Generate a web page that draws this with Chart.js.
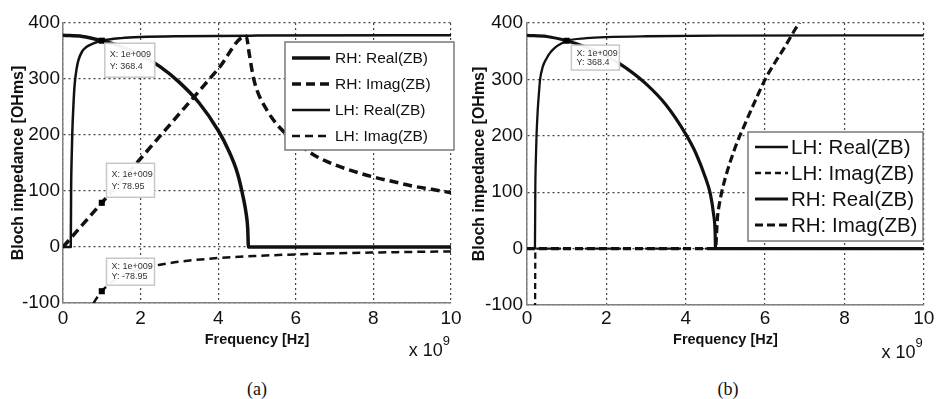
<!DOCTYPE html>
<html><head><meta charset="utf-8">
<script src="https://cdn.jsdelivr.net/npm/chart.js@4.4.0/dist/chart.umd.min.js"></script>
<style>
html,body{margin:0;padding:0;background:#fff;width:937px;height:399px;overflow:hidden;}
#ca{position:absolute;left:0;top:0;}
#cb{position:absolute;left:468px;top:0;}
.cap{position:absolute;top:380px;width:40px;text-align:center;font-family:'Liberation Serif','DejaVu Serif',serif;font-size:18px;line-height:19px;color:#111;}
</style></head><body>
<canvas id="ca" width="468" height="370"></canvas>
<canvas id="cb" width="469" height="370"></canvas>
<div class="cap" style="left:237px">(a)</div>
<div class="cap" style="left:708px">(b)</div>
<script>
// ---- tick labels ----
const xTicks = [0, 2, 4, 6, 8, 10];
const yTicks = [-100, 0, 100, 200, 300, 400];
const xTitle = 'Frequency [Hz]';
const yTitle = 'Bloch impedance [OHms]';
const xExponent = '9';
const captions = ['(a)', '(b)'];

// ---- panel (a) ----
const aLabels = ['RH: Real(ZB)', 'RH: Imag(ZB)', 'LH: Real(ZB)', 'LH: Imag(ZB)'];
const aRhRealX = [0, 0.5, 1, 1.5, 2, 2.5, 3, 3.5, 4, 4.25, 4.5, 4.65, 4.72, 4.76, 4.78, 6, 8, 10];
const aRhRealY = [378, 376, 368.4, 358, 343, 322, 294, 258, 208, 175, 131, 87, 60, 34, 0, 0, 0, 0];
const aRhImagX = [0, 1, 2, 3, 4, 4.72, 4.8, 4.9, 5.0, 5.25, 5.5, 5.75, 6, 6.5, 7, 7.5, 8, 8.5, 9, 9.5, 10];
const aRhImagY = [0, 78.95, 158, 238, 318, 377, 345, 305, 280, 245, 220, 202, 188, 163, 147, 135, 125, 117, 109, 103, 97];
const aLhRealX = [0, 0.2, 0.21, 0.22, 0.24, 0.27, 0.3, 0.35, 0.4, 0.5, 0.6, 0.8, 1, 1.5, 2, 3, 5, 10];
const aLhRealY = [0, 0, 110, 150, 205, 255, 290, 318, 334, 350, 357, 364, 368.4, 373, 375, 376.5, 377.5, 378];
const aLhImagX = [0.78, 0.85, 1, 1.25, 1.5, 2, 2.5, 3, 4, 5, 6, 7, 8, 9, 10];
const aLhImagY = [-101, -93, -78.95, -63, -52.6, -39.5, -31.6, -26.3, -19.7, -15.8, -13.2, -11.3, -9.9, -8.8, -7.9];
const aTipX = [1, 1, 1];
const aTipY = [368.4, 78.95, -78.95];

// ---- panel (b) ----
const bLabels = ['LH: Real(ZB)', 'LH: Imag(ZB)', 'RH: Real(ZB)', 'RH: Imag(ZB)'];
const bLhRealX = [0, 0.2, 0.21, 0.22, 0.24, 0.27, 0.3, 0.33, 0.4, 0.5, 0.58, 0.7, 0.85, 1, 1.5, 2, 3, 5, 10];
const bLhRealY = [0, 0, 110, 150, 200, 245, 275, 300, 323, 338, 347, 356, 363, 368.4, 373, 375, 376.5, 377.5, 378];
const bLhImagX = [0.19, 0.2, 0.205, 0.21, 10];
const bLhImagY = [-160, -121, -84, 0, 0];
const bRhRealX = [0, 0.5, 1, 1.5, 2, 2.5, 3, 3.5, 4, 4.25, 4.5, 4.62, 4.7, 4.74, 4.75, 10];
const bRhRealY = [378, 376, 368.4, 357, 342, 320, 292, 255, 203, 170, 125, 97, 62, 30, 0, 0];
const bRhImagX = [0, 4.75, 4.8, 4.85, 4.9, 5, 5.25, 5.5, 5.75, 6, 6.25, 6.5, 6.75, 7, 7.1];
const bRhImagY = [0, 0, 55, 80, 98, 126, 180, 222, 262, 300, 330, 358, 388, 416, 428];
const bTipX = [1];
const bTipY = [368.4];

const FONT = '"Liberation Sans", Arial, Helvetica, sans-serif';
function pts(xs, ys) { return xs.map((x, i) => ({x: x, y: ys[i]})); }
function tipText(x, y) {
  const v = x * 1e9;
  const e = Math.floor(Math.log10(v));
  const m = v / Math.pow(10, e);
  return ['X: ' + m + 'e+' + String(e).padStart(3, '0'), 'Y: ' + y];
}

const boxLegend = {
  id: 'boxLegend',
  afterDatasetsDraw(chart, args, o) {
    if (!o || !o.rows) return;
    const ctx = chart.ctx;
    ctx.save();
    ctx.fillStyle = '#fff';
    ctx.fillRect(o.x, o.y, o.w, o.h);
    ctx.strokeStyle = '#7a7a7a';
    ctx.lineWidth = 1.5;
    ctx.strokeRect(o.x, o.y, o.w, o.h);
    o.rows.forEach((ry, i) => {
      const ds = chart.data.datasets[i];
      ctx.beginPath();
      ctx.strokeStyle = ds.borderColor;
      ctx.lineWidth = ds.borderWidth;
      ctx.setLineDash(ds.legendDash || []);
      ctx.moveTo(o.lx1, ry);
      ctx.lineTo(o.lx2, ry);
      ctx.stroke();
      ctx.setLineDash([]);
      ctx.fillStyle = '#111';
      ctx.font = o.fontSize + 'px ' + FONT;
      ctx.textBaseline = 'middle';
      ctx.textAlign = 'left';
      ctx.fillText(ds.label, o.tx, ry + 1);
    });
    ctx.restore();
  }
};

const dataTips = {
  id: 'dataTips',
  afterDatasetsDraw(chart, args, o) {
    if (!o || !o.boxes) return;
    const ctx = chart.ctx;
    const xs = chart.scales.x, ys = chart.scales.y;
    ctx.save();
    o.boxes.forEach((b, i) => {
      const mx = xs.getPixelForValue(o.tx[i]);
      const my = ys.getPixelForValue(o.ty[i]);
      const bx = mx + b.dx, by = my + b.dy;
      ctx.fillStyle = 'rgba(255,255,255,0.95)';
      ctx.fillRect(bx, by, b.w, b.h);
      ctx.strokeStyle = '#c8c8c8';
      ctx.lineWidth = 1.5;
      ctx.strokeRect(bx, by, b.w, b.h);
      const lines = tipText(o.tx[i], o.ty[i]);
      ctx.fillStyle = '#333';
      ctx.font = '9px ' + FONT;
      ctx.textBaseline = 'middle';
      ctx.textAlign = 'left';
      ctx.fillText(lines[0], bx + 5, by + b.h * 0.32);
      ctx.fillText(lines[1], bx + 5, by + b.h * 0.68);
    });
    ctx.restore();
  }
};

const expoLabel = {
  id: 'expoLabel',
  afterDraw(chart) {
    const ctx = chart.ctx;
    const a = chart.chartArea;
    ctx.save();
    ctx.fillStyle = '#111';
    ctx.textBaseline = 'alphabetic';
    ctx.textAlign = 'right';
    ctx.font = '13px ' + FONT;
    const w9 = ctx.measureText(xExponent).width;
    ctx.fillText(xExponent, a.right - 1, a.bottom + 42);
    ctx.font = '18px ' + FONT;
    ctx.fillText('x 10', a.right - 1 - w9, a.bottom + 53);
    ctx.restore();
  }
};

function makeChart(id, p) {
  return new Chart(document.getElementById(id), {
    type: 'scatter',
    data: { datasets: p.datasets },
    plugins: [boxLegend, dataTips, expoLabel],
    options: {
      responsive: false,
      animation: false,
      events: [],
      layout: { padding: { left: 0, right: p.padRight, top: 23, bottom: 0 } },
      plugins: {
        legend: { display: false },
        tooltip: { enabled: false },
        boxLegend: p.legend,
        dataTips: p.tips
      },
      elements: { point: { radius: 0 } },
      scales: {
        x: {
          type: 'linear', min: 0, max: 10,
          afterBuildTicks: s => { s.ticks = xTicks.map(v => ({value: v})); },
          afterFit: s => { s.height = p.xH; },
          ticks: { font: { family: FONT, size: 19 }, color: '#111', padding: p.xPad, maxRotation: 0 },
          grid: { color: '#444', lineWidth: 1.2, drawTicks: false },
          border: { color: '#808080', width: 1.5, dash: [2, 3] },
          title: { display: true, text: xTitle, color: '#111',
                   font: { family: FONT, size: 14.5, weight: 'bold' }, padding: { top: 0, bottom: p.xTitlePad } }
        },
        y: {
          type: 'linear', min: -100, max: 400,
          afterBuildTicks: s => { s.ticks = yTicks.map(v => ({value: v})); },
          afterFit: s => { s.width = p.yW; },
          ticks: { font: { family: FONT, size: 19 }, color: '#111', padding: p.yPad },
          grid: { color: '#444', lineWidth: 1.2, drawTicks: false },
          border: { color: '#808080', width: 1.5, dash: [2, 3] },
          title: { display: true, text: yTitle, color: '#111',
                   font: { family: FONT, size: 16, weight: 'bold' }, padding: { top: p.yTitlePad, bottom: 0 } }
        }
      }
    }
  });
}

function lineDs(label, xs, ys, w, dash) {
  return { label: label, data: pts(xs, ys), showLine: true, borderColor: '#111', backgroundColor: '#111',
           borderWidth: w, borderDash: dash || [], legendDash: dash || [], pointRadius: 0,
           cubicInterpolationMode: 'monotone', borderCapStyle: 'butt', borderJoinStyle: 'round' };
}
function tipDs(xs, ys) {
  return { label: 'tips', data: pts(xs, ys), showLine: false, pointStyle: 'rect', pointRadius: 4.3,
           backgroundColor: '#000', borderColor: '#000', borderWidth: 0, order: -1 };
}

makeChart('ca', {
  padRight: 17, xH: 67, xPad: 4.5, xTitlePad: 21.5, yW: 63, yPad: 3, yTitlePad: 8.5,
  datasets: [
    lineDs(aLabels[0], aRhRealX, aRhRealY, 3.5),
    lineDs(aLabels[1], aRhImagX, aRhImagY, 3.5, [9, 5]),
    lineDs(aLabels[2], aLhRealX, aLhRealY, 2.5),
    lineDs(aLabels[3], aLhImagX, aLhImagY, 2.5, [8, 5]),
    tipDs(aTipX, aTipY)
  ],
  legend: { x: 285, y: 42, w: 169, h: 108, rows: [58, 84, 110, 136], lx1: 292, lx2: 330, tx: 335, fontSize: 15.5 },
  tips: { tx: aTipX, ty: aTipY, boxes: [
    { dx: 3, dy: 2.5, w: 50, h: 34 },
    { dx: 4.7, dy: -39.5, w: 48, h: 34 },
    { dx: 4.7, dy: -33, w: 48, h: 27 } ] }
});

makeChart('cb', {
  padRight: 10, xH: 65, xPad: 2.6, xTitlePad: 21, yW: 59, yPad: 4, yTitlePad: 1.5,
  datasets: [
    lineDs(bLabels[0], bLhRealX, bLhRealY, 2.3),
    lineDs(bLabels[1], bLhImagX, bLhImagY, 2.3, [6, 4]),
    lineDs(bLabels[2], bRhRealX, bRhRealY, 3.2),
    lineDs(bLabels[3], bRhImagX, bRhImagY, 3.2, [8, 4]),
    tipDs(bTipX, bTipY)
  ],
  legend: { x: 280, y: 132, w: 175, h: 109, rows: [147, 173, 199, 225], lx1: 287, lx2: 320, tx: 323, fontSize: 20.5 },
  tips: { tx: bTipX, ty: bTipY, boxes: [ { dx: 4.7, dy: 4.3, w: 48, h: 25 } ] }
});

document.querySelectorAll('.cap').forEach((el, i) => { el.textContent = captions[i]; });
</script>
</body></html>
